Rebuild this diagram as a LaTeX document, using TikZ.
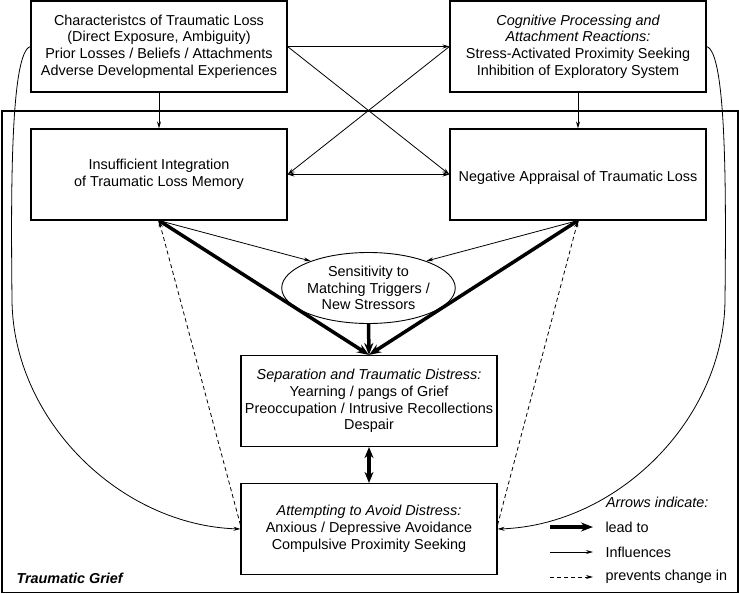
\documentclass[tikz,border=0pt]{standalone}
\usepackage{fontspec}
\setmainfont{Liberation Sans}
\usetikzlibrary{arrows.meta,shapes.geometric}

\begin{document}
\begin{tikzpicture}[x=1pt,y=-1pt,
    font=\fontsize{14.4}{16.8}\selectfont,
    box/.style={draw,line width=1.1pt,minimum width=256pt,minimum height=91pt,align=center,inner sep=0pt},
    infl/.style={line width=0.8pt,-{Stealth[length=7pt,width=4pt]}},
    both/.style={line width=0.8pt,{Stealth[length=7pt,width=4pt]}-{Stealth[length=7pt,width=4pt]}},
    lead/.style={line width=3.5pt,-{Stealth[length=12pt,width=9pt]}},
    dbl/.style={line width=3.5pt,{Stealth[length=11pt,width=9pt]}-{Stealth[length=11pt,width=9pt]}},
    prev/.style={infl,dash pattern=on 4pt off 3pt}]
    \useasboundingbox (0,0) rectangle (739,594);
    % outer frame
    \draw[line width=1.3pt] (2,111) rectangle (738,592.5);
    \node[anchor=west] (tg) at (13,578) {\bfseries\itshape Traumatic Grief};
    % boxes
    \node[box] (chr) at (159,46.5) {Characteristcs of Traumatic Loss\\(Direct Exposure, Ambiguity)\\Prior Losses / Beliefs / Attachments\\Adverse Developmental Experiences};
    \node[box] (cog) at (578,46.5) {\itshape Cognitive Processing and\\\itshape Attachment Reactions:\\Stress-Activated Proximity Seeking\\Inhibition of Exploratory System};
    \node[box] (ins) at (159,174.5) {Insufficient Integration\\of Traumatic Loss Memory};
    \node[box] (neg) at (578,174.5) {\mbox{}\\Negative Appraisal of Traumatic Loss};
    \node[draw,ellipse,line width=0.9pt,minimum width=151pt,minimum height=71pt,inner sep=0pt,align=center] (sens) at (368.5,288) {Sensitivity to\\Matching Triggers /\\New Stressors};
    \node[box] (sep) at (369,401) {\itshape Separation and Traumatic Distress:\\Yearning / pangs of Grief\\Preoccupation / Intrusive Recollections\\Despair};
    \node[box] (avd) at (369,529) {\itshape Attempting to Avoid Distress:\\Anxious / Depressive Avoidance\\Compulsive Proximity Seeking};
    % influences
    \draw[infl] (chr.south) -- (ins.north);
    \draw[infl] (cog.south) -- (neg.north);
    \draw[infl] (chr.east) -- (cog.west);
    \draw[infl] (chr.east) -- (neg.west);
    \draw[infl] (cog.west) -- (ins.east);
    \draw[both] (ins.east) -- (neg.west);
    \draw[infl] (ins.south) -- (sens.155);
    \draw[infl] (neg.south) -- (sens.25);
    \draw[infl] (chr.west) .. controls (10,52) and (11,200) .. (12,300) .. controls (13,420) and (120,525) .. (avd.west);
    \draw[infl] (cog.east) .. controls (727,52) and (726,200) .. (725,300) .. controls (724,420) and (617,525) .. (avd.east);
    % lead to
    \draw[lead] (ins.south) -- (sep.north);
    \draw[lead] (neg.south) -- (sep.north);
    \draw[lead] (sens.south) -- (sep.north);
    \draw[dbl] (sep.south) -- (avd.north);
    % prevents change in
    \draw[prev] ([yshift=4pt]avd.west) -- (ins.south);
    \draw[prev] ([yshift=4pt]avd.east) -- (neg.south);
    % legend
    \node[anchor=east] (lgd) at (712,502) {\itshape Arrows indicate:};
    \coordinate (l1) at (550,527);
    \coordinate (l2) at (550,552);
    \coordinate (l3) at (550,577);
    \node[anchor=west] (t1) at (602,527) {lead to};
    \node[anchor=west] (t2) at (602,552) {Influences};
    \node[anchor=west] (t3) at (602,577) {prevents change in};
    \draw[lead] (l1) -- ([xshift=-9pt]t1.west);
    \draw[infl] (l2) -- ([xshift=-9pt]t2.west);
    \draw[prev] (l3) -- ([xshift=-9pt]t3.west);
\end{tikzpicture}
\end{document}
